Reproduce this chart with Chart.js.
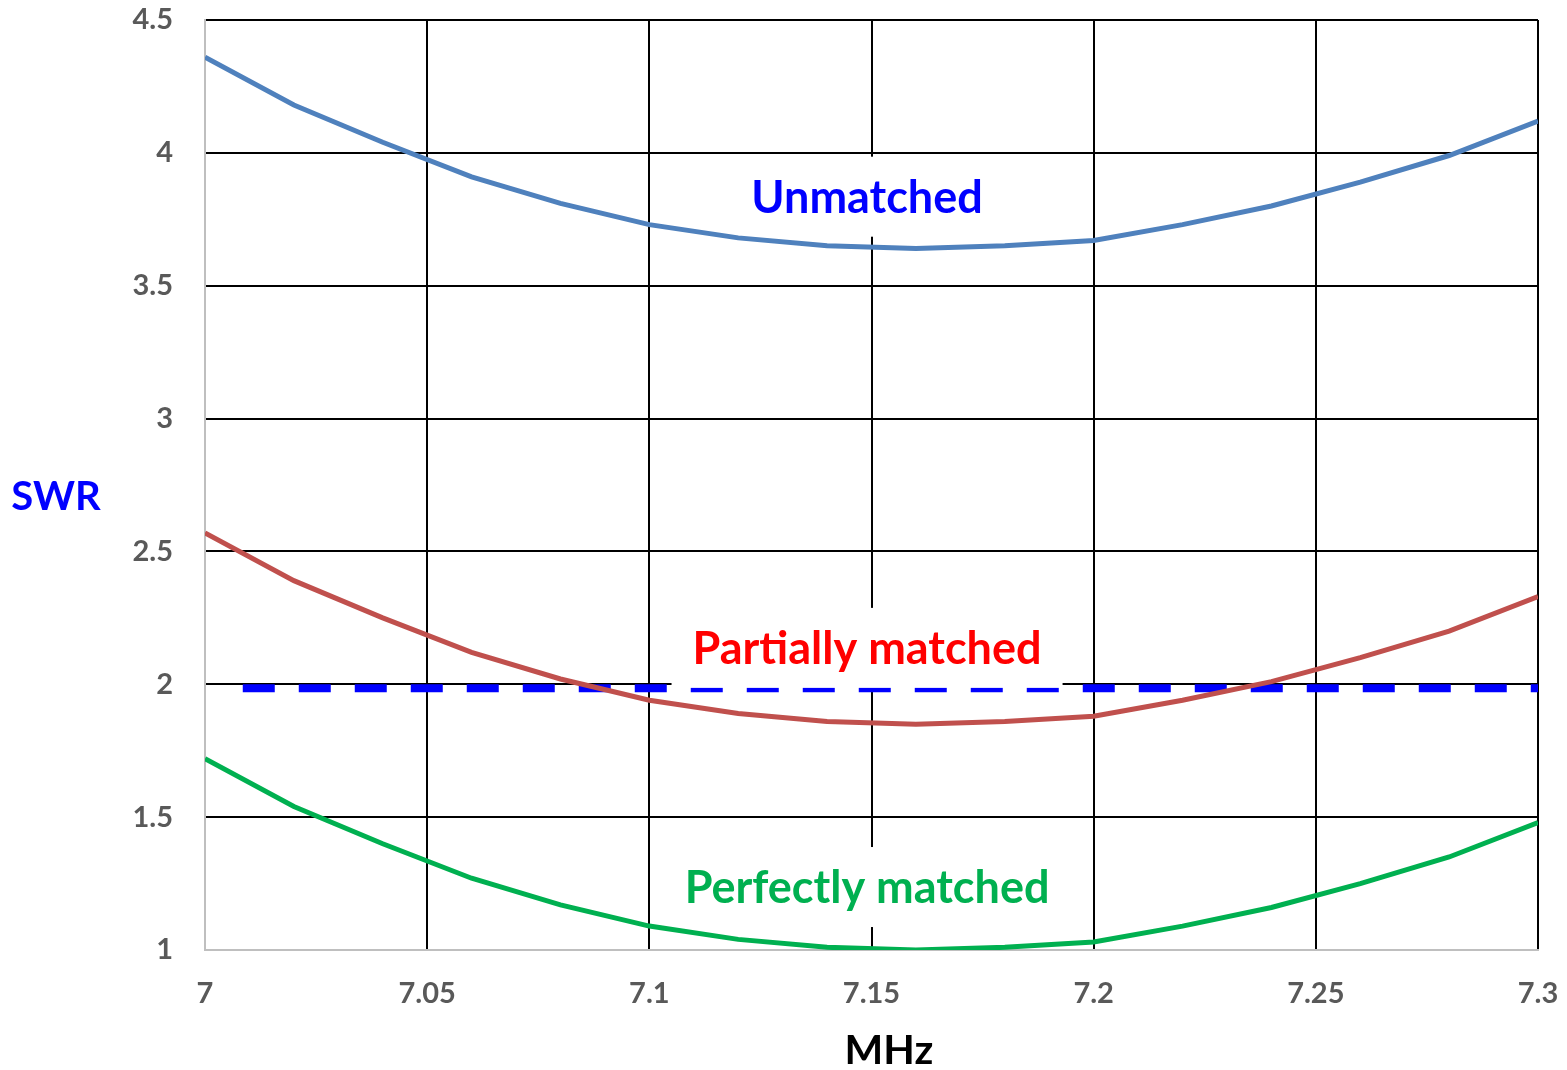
<!DOCTYPE html>
<html>
<head>
<meta charset="utf-8">
<title>SWR vs frequency</title>
<script src="https://cdn.jsdelivr.net/npm/chart.js@4/dist/chart.umd.min.js"></script>
<style>
  html, body { margin: 0; padding: 0; background: #ffffff; }
  #wrap { width: 1567px; height: 1070px; }
</style>
</head>
<body>
<div id="wrap"><canvas id="swr" width="1567" height="1070"></canvas></div>
<script>
// Frequency sweep (MHz)
const freqMHz = [7.00, 7.02, 7.04, 7.06, 7.08, 7.10, 7.12, 7.14, 7.16, 7.18, 7.20, 7.22, 7.24, 7.26, 7.28, 7.30];

// SWR readings for the three antenna conditions
const swrUnmatched = [4.36, 4.18, 4.04, 3.91, 3.81, 3.73, 3.68, 3.65, 3.64, 3.65, 3.67, 3.73, 3.80, 3.89, 3.99, 4.12];
const swrPartial   = [2.57, 2.39, 2.25, 2.12, 2.02, 1.94, 1.89, 1.86, 1.85, 1.86, 1.88, 1.94, 2.01, 2.10, 2.20, 2.33];
const swrPerfect   = [1.72, 1.54, 1.40, 1.27, 1.17, 1.09, 1.04, 1.01, 1.00, 1.01, 1.03, 1.09, 1.16, 1.25, 1.35, 1.48];

// 2:1 SWR reference line
const limitX = [7.0085, 7.30];
const limitY = [1.985, 1.985];

// Axis ticks
const xTicks = [7.00, 7.05, 7.10, 7.15, 7.20, 7.25, 7.30];
const xTickLabels = ['7', '7.05', '7.1', '7.15', '7.2', '7.25', '7.3'];
const yTicks = [1, 1.5, 2, 2.5, 3, 3.5, 4, 4.5];
const yTickLabels = ['1', '1.5', '2', '2.5', '3', '3.5', '4', '4.5'];

// Curve captions (placed in data coordinates)
const captionText = ['Unmatched', 'Partially matched', 'Perfectly matched'];
const captionX = [7.149, 7.149, 7.149];
const captionY = [3.835, 2.137, 1.237];
const captionColor = ['#0000FF', '#FF0000', '#00B050'];

const FONT = 'Lato, "Open Sans", "DejaVu Sans", sans-serif';

const toPoints = (xs, ys) => xs.map((x, i) => ({ x: x, y: ys[i] }));

// Draws the curve captions on white boxes right after the reference line,
// so the boxes hide the grid and the top of the dashed line beneath them.
const captionPlugin = {
  id: 'captions',
  afterDatasetDraw(chart, args) {
    if (args.index !== 3) return;
    const ctx = chart.ctx;
    const xs = chart.scales.x, ys = chart.scales.y;
    const size = 45;
    const capH = size * 0.72;
    ctx.save();
    ctx.font = 'bold ' + size + 'px ' + FONT;
    captionText.forEach((t, i) => {
      const cx = xs.getPixelForValue(captionX[i]);
      const cy = ys.getPixelForValue(captionY[i]);
      const w = ctx.measureText(t).width;
      ctx.fillStyle = '#ffffff';
      ctx.fillRect(cx - w / 2 - 21, cy - 40, w + 42, 80);
      ctx.fillStyle = captionColor[i];
      ctx.textAlign = 'center';
      ctx.textBaseline = 'alphabetic';
      ctx.fillText(t, cx, cy + capH / 2);
    });
    ctx.restore();
  }
};

// Horizontal axis titles drawn as plain text
const axisTitlePlugin = {
  id: 'axisTitles',
  afterDraw(chart) {
    const ctx = chart.ctx;
    const area = chart.chartArea;
    ctx.save();
    ctx.textBaseline = 'alphabetic';
    ctx.textAlign = 'center';
    ctx.font = 'bold 40px ' + FONT;
    ctx.fillStyle = '#0000FF';
    ctx.fillText('SWR', 56, 510);
    ctx.font = 'bold 41px ' + FONT;
    ctx.fillStyle = '#000000';
    ctx.fillText('MHz', 889, 1064);
    ctx.restore();
  }
};

new Chart(document.getElementById('swr'), {
  type: 'line',
  data: {
    datasets: [
      { label: 'Unmatched', data: toPoints(freqMHz, swrUnmatched), borderColor: '#4F81BD', borderWidth: 5, pointRadius: 0, tension: 0, order: 0 },
      { label: 'Partially matched', data: toPoints(freqMHz, swrPartial), borderColor: '#C0504D', borderWidth: 5, pointRadius: 0, tension: 0, order: 0 },
      { label: 'Perfectly matched', data: toPoints(freqMHz, swrPerfect), borderColor: '#00B050', borderWidth: 5, pointRadius: 0, tension: 0, order: 0 },
      { label: 'SWR 2:1', data: toPoints(limitX, limitY), borderColor: '#0000FF', borderWidth: 8, borderDash: [32, 24], borderCapStyle: 'butt', pointRadius: 0, tension: 0, order: 5 }
    ]
  },
  options: {
    responsive: false,
    animation: false,
    devicePixelRatio: 1,
    layout: { padding: { left: 0, top: 20, right: 29, bottom: 0 } },
    plugins: { legend: { display: false }, tooltip: { enabled: false } },
    scales: {
      x: {
        type: 'linear',
        min: 7.0,
        max: 7.3,
        afterBuildTicks: s => { s.ticks = xTicks.map(v => ({ value: v })); },
        afterFit: s => { s.height = 120; s.paddingLeft = 0; s.paddingRight = 0; },
        ticks: {
          autoSkip: false,
          maxRotation: 0,
          padding: 26,
          color: '#595959',
          font: { family: FONT, size: 29, weight: 'bold' },
          callback: (v, i) => xTickLabels[i]
        },
        grid: { color: '#000000', lineWidth: 2, drawTicks: false },
        border: { color: '#BFBFBF', width: 2 }
      },
      y: {
        type: 'linear',
        min: 1,
        max: 4.5,
        afterBuildTicks: s => { s.ticks = yTicks.map(v => ({ value: v })); },
        afterFit: s => { s.width = 205; s.paddingTop = 0; s.paddingBottom = 0; },
        ticks: {
          autoSkip: false,
          padding: 32,
          color: '#595959',
          font: { family: FONT, size: 29, weight: 'bold' },
          callback: (v, i) => yTickLabels[i]
        },
        grid: { color: '#000000', lineWidth: 2, drawTicks: false },
        border: { color: '#BFBFBF', width: 2 }
      }
    }
  },
  plugins: [captionPlugin, axisTitlePlugin]
});
</script>
</body>
</html>
